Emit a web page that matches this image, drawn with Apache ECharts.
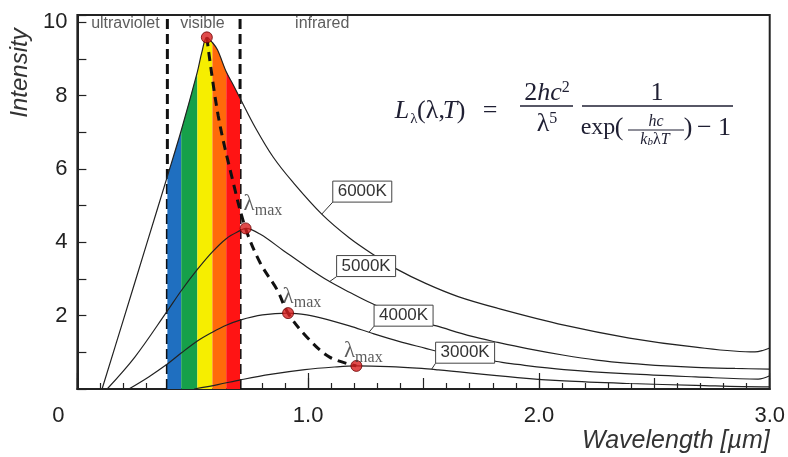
<!DOCTYPE html>
<html><head><meta charset="utf-8">
<script src="https://cdn.jsdelivr.net/npm/echarts@6/dist/echarts.min.js"></script>
<style>html,body{margin:0;padding:0;background:#fff}#c{width:788px;height:457px}</style>
</head><body><div id="c"></div>
<script>
// ---------- data ----------
const xTickValues = [0, 1, 2, 3];
const xTickLabels = ['0', '1.0', '2.0', '3.0'];
const yTickValues = [2, 4, 6, 8, 10];
const yTickLabels = ['2', '4', '6', '8', '10'];

const c6000X = [0.107, 0.2, 0.3, 0.39, 0.45, 0.52, 0.54, 0.561, 0.585, 0.607, 0.645, 0.675, 0.705, 0.772, 0.849, 0.934, 1.059, 1.179, 1.294, 1.384, 1.509, 1.65, 1.822, 2.109, 2.392, 2.679, 2.936, 2.97, 3.0];
const c6000Y = [0, 1.9, 3.95, 5.8, 7.05, 8.65, 9.2, 9.59, 9.45, 9.25, 8.65, 8.3, 7.93, 7.12, 6.32, 5.64, 4.77, 4.12, 3.62, 3.27, 2.88, 2.52, 2.2, 1.74, 1.39, 1.14, 1.01, 1.05, 1.12];

const c5000X = [0.129, 0.249, 0.39, 0.45, 0.52, 0.585, 0.645, 0.705, 0.729, 0.793, 0.892, 0.994, 1.093, 1.179, 1.277, 1.4, 1.556, 1.706, 1.822, 1.95, 2.109, 2.25, 2.392, 2.55, 2.679, 2.85, 3.0];
const c5000Y = [0, 0.87, 2.13, 2.68, 3.26, 3.74, 4.1, 4.32, 4.38, 4.22, 3.78, 3.33, 2.93, 2.64, 2.33, 2.0, 1.72, 1.44, 1.27, 1.1, 0.92, 0.79, 0.7, 0.63, 0.59, 0.56, 0.54];

const c4000X = [0.223, 0.309, 0.39, 0.45, 0.52, 0.585, 0.645, 0.705, 0.802, 0.913, 0.994, 1.08, 1.179, 1.277, 1.393, 1.509, 1.564, 1.7, 1.817, 1.907, 2.109, 2.392, 2.679, 2.95, 3.0];
const c4000Y = [0, 0.33, 0.68, 0.98, 1.31, 1.55, 1.74, 1.88, 2.02, 2.07, 2.02, 1.9, 1.72, 1.52, 1.3, 1.11, 1.02, 0.86, 0.75, 0.67, 0.53, 0.41, 0.33, 0.27, 0.36];

const c3000X = [0.506, 0.609, 0.707, 0.836, 0.986, 1.114, 1.209, 1.35, 1.492, 1.564, 1.907, 2.109, 2.392, 2.679, 2.966, 3.0];
const c3000Y = [0, 0.12, 0.25, 0.4, 0.53, 0.6, 0.63, 0.61, 0.56, 0.52, 0.31, 0.22, 0.15, 0.1, 0.06, 0.06];

const peakX = [0.561, 0.729, 0.913, 1.209];
const peakY = [9.59, 4.38, 2.07, 0.63];
const wienX = [0.561, 0.61, 0.675, 0.729, 0.793, 0.866, 0.913, 0.994, 1.093, 1.209];
const wienY = [9.59, 7.46, 5.64, 4.38, 3.43, 2.70, 2.07, 1.42, 0.87, 0.63];

const bandEdges = [0.39, 0.45, 0.52, 0.585, 0.645, 0.705];
const bandColors = ['#1f6fc0', '#16a04a', '#f6ee00', '#ff6a0a', '#ff1414'];
const regionEdges = [0.39, 0.705];
const regionNames = ['ultraviolet', 'visible', 'infrared'];
const regionNameX = [0.208, 0.542, 1.061];
const regionNameY = [9.97, 9.97, 9.97];

const lamLabelX = [0.804, 0.973, 1.239];
const lamLabelY = [5.0, 2.48, 1.0];

const tempNames = ['6000K', '5000K', '4000K', '3000K'];
const tempLeaderX = [1.059, 1.093, 1.264, 1.535];
const tempLeaderY = [4.77, 2.93, 1.55, 0.54];

// ---------- styling / layout ----------
const SANS = 'Liberation Sans, Arial, sans-serif';
const SERIF = 'Liberation Serif, Times New Roman, serif';
const INK = '#222';
const boxDX = [11, 7, 5, 4], boxDY = [-12, -5, -6, -6], boxW = 59, boxH = 21;
const SMOOTH = 0.35;

const zip = (xs, ys) => xs.map((x, i) => [x, ys[i]]);
const curves = [[c6000X, c6000Y], [c5000X, c5000Y], [c4000X, c4000Y], [c3000X, c3000Y]];
const c6000 = zip(c6000X, c6000Y);

const series = [];
regionEdges.forEach(x => series.push({
  type: 'line', data: [[x, 0], [x, 10.2]], symbol: 'none', z: 1, silent: true,
  lineStyle: { color: '#111', width: 3, type: [10, 5] }
}));
bandColors.forEach((col, i) => series.push({
  type: 'line', symbol: 'none', z: 2, silent: true, smooth: SMOOTH,
  data: c6000.filter(p => p[0] >= bandEdges[i] - 1e-9 && p[0] <= bandEdges[i + 1] + 1e-9),
  lineStyle: { width: 0, color: col }, areaStyle: { color: col, opacity: 1 }
}));
curves.forEach(([xs, ys]) => series.push({
  type: 'line', symbol: 'none', z: 3, smooth: SMOOTH, data: zip(xs, ys),
  lineStyle: { color: INK, width: 1.2 }
}));
series.push({
  type: 'line', symbol: 'none', z: 4, smooth: 0.35, data: zip(wienX, wienY),
  lineStyle: { color: '#111', width: 3, type: [9, 6] }
});
series.push({
  type: 'scatter', z: 5, symbolSize: 11, data: zip(peakX, peakY),
  itemStyle: { color: '#d81e1e', borderColor: '#6a0000', borderWidth: 1 }
});
series.push({
  type: 'scatter', z: 6, symbolSize: 0, data: zip(lamLabelX, lamLabelY),
  label: {
    show: true, position: 'inside', formatter: '{l|λ}{s|max}',
    rich: {
      l: { fontFamily: SERIF, fontSize: 23, color: '#333', verticalAlign: 'bottom', padding: [0, 0, 3, 0] },
      s: { fontFamily: SERIF, fontSize: 16, color: '#333', verticalAlign: 'bottom' }
    }
  }
});
series.push({
  type: 'scatter', z: 6, symbolSize: 0, data: regionNames.map((n, i) => ({ name: n, value: [regionNameX[i], regionNameY[i]] })),
  label: { show: true, position: 'inside', formatter: p => p.name, fontFamily: SANS, fontSize: 16, color: '#333' }
});

const option = {
  animation: false,
  backgroundColor: '#fff',
  grid: { left: 75, right: 16, top: 15, bottom: 68, show: true, borderColor: INK, borderWidth: 2 },
  xAxis: [{
    type: 'value', min: 0, max: 3, interval: 0.5, position: 'bottom',
    axisLine: { lineStyle: { color: INK, width: 2 } },
    axisTick: { inside: true, length: 11, lineStyle: { color: INK, width: 1.2 } },
    minorTick: { show: true, splitNumber: 5, length: 6, lineStyle: { color: INK, width: 1.2 } },
    splitLine: { show: false },
    axisLabel: {
      margin: 16, fontFamily: SANS, fontSize: 22, color: INK,
      formatter: v => { const k = xTickValues.findIndex(t => Math.abs(t - v) < 1e-9); return k < 0 ? '' : (k === 0 ? '{z|' + xTickLabels[k] + '}' : xTickLabels[k]); },
      rich: { z: { fontFamily: SANS, fontSize: 22, color: INK, padding: [0, 38, 0, 0] } }
    },
    name: 'Wavelength [µm]', nameLocation: 'end', nameGap: 0,
    nameTextStyle: { fontFamily: SANS, fontStyle: 'italic', fontSize: 25, color: '#333', align: 'right', verticalAlign: 'top', padding: [40, 0, 0, 0] }
  }, {
    type: 'value', min: 0, max: 3, interval: 1, position: 'bottom',
    axisLine: { show: false }, axisLabel: { show: false }, splitLine: { show: false },
    axisTick: { inside: true, length: 16, lineStyle: { color: INK, width: 1.2 } }
  }],
  yAxis: {
    type: 'value', min: 0, max: 10.2, interval: 2,
    axisLine: { lineStyle: { color: INK, width: 2 } },
    axisTick: { inside: true, length: 9, lineStyle: { color: INK, width: 1.2 } },
    minorTick: { show: true, splitNumber: 2, length: 9, lineStyle: { color: INK, width: 1.2 } },
    splitLine: { show: false },
    axisLabel: {
      margin: 10, fontFamily: SANS, fontSize: 22, color: INK,
      formatter: v => { const k = yTickValues.findIndex(t => Math.abs(t - v) < 1e-9); return k < 0 ? '' : yTickLabels[k]; }
    },
    name: 'Intensity', nameLocation: 'middle', nameGap: 36,
    nameTextStyle: { fontFamily: SANS, fontStyle: 'italic', fontSize: 24, color: '#333', padding: [0, 0, 0, 258] }
  },
  series
};

const chart = echarts.init(document.getElementById('c'), null, { renderer: 'canvas' });
chart.setOption(option);

// ---------- annotations placed through the chart's scales ----------
const g = [];
tempNames.forEach((t, i) => {
  const [px, py] = chart.convertToPixel({ gridIndex: 0 }, [tempLeaderX[i], tempLeaderY[i]]);
  const cx = px + boxDX[i], cy = py + boxDY[i];
  g.push({ type: 'line', z: 20, shape: { x1: px, y1: py, x2: cx, y2: cy }, style: { stroke: '#333', lineWidth: 1 } });
  g.push({ type: 'rect', z: 20, shape: { x: cx, y: cy - boxH, width: boxW, height: boxH }, style: { fill: '#fff', stroke: '#444', lineWidth: 1 } });
  g.push({ type: 'text', z: 21, x: cx + boxW / 2, y: cy - boxH / 2, style: { text: t, fontFamily: SANS, fontSize: 17, fill: '#333', align: 'center', verticalAlign: 'middle' } });
});

// formula
const FC = '#1f1f33';
const T = (text, x, y, size, italic, extra) => g.push(Object.assign({ type: 'text', z: 22, x, y, style: Object.assign({ text, fontFamily: SERIF, fontSize: size, fontStyle: italic ? 'italic' : 'normal', fill: FC, align: 'center', verticalAlign: 'middle' }, extra || {}) }));
const L = (x1, y1, x2, y2, w) => g.push({ type: 'line', z: 22, shape: { x1, y1, x2, y2 }, style: { stroke: FC, lineWidth: w || 1.3 } });
T('L', 402, 111, 26, true);
T('λ', 414, 119, 15, false);
T('(λ,', 431, 111, 26, false);
T('T', 450, 111, 26, true);
T(')', 461, 111, 26, false);
T('=', 490, 111, 26, false);
T('{n|2}{i|hc}{s|2}', 547, 93, 26, false, { rich: { n: { fontFamily: SERIF, fontSize: 26, fill: FC, verticalAlign: 'bottom' }, i: { fontFamily: SERIF, fontSize: 26, fontStyle: 'italic', fill: FC, verticalAlign: 'bottom' }, s: { fontFamily: SERIF, fontSize: 16, fill: FC, verticalAlign: 'top' } } });
L(520, 106, 573, 106);
T('{n|λ}{s|5}', 547, 124, 26, false, { rich: { n: { fontFamily: SERIF, fontSize: 26, fill: FC, verticalAlign: 'bottom' }, s: { fontFamily: SERIF, fontSize: 16, fill: FC, verticalAlign: 'top' } } });
T('1', 657, 93, 26, false);
L(582, 106, 733, 106);
T('exp', 598, 128, 24, false);
T('(', 619, 128, 26, false);
T('hc', 656, 122, 16, true);
L(628, 130, 684, 130, 1);
T('{i|k}{b|b}{n|λ}{i|T}', 655, 140, 16, false, { rich: { i: { fontFamily: SERIF, fontSize: 16, fontStyle: 'italic', fill: FC, verticalAlign: 'bottom' }, b: { fontFamily: SERIF, fontSize: 11, fontStyle: 'italic', fill: FC, verticalAlign: 'bottom' }, n: { fontFamily: SERIF, fontSize: 16, fill: FC, verticalAlign: 'bottom' } } });
T(')', 688, 128, 26, false);
T('− 1', 714, 128, 26, false);

chart.setOption({ graphic: g });
</script>
</body></html>
